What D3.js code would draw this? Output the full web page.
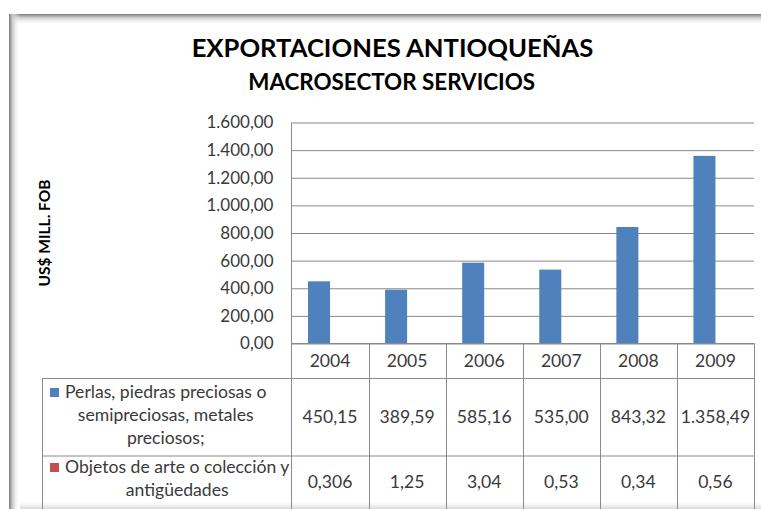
<!DOCTYPE html>
<html>
<head>
<meta charset="utf-8">
<script src="https://cdn.jsdelivr.net/npm/d3@7"></script>
<style>
  body { margin: 0; background: #ffffff; }
  svg { display: block; font-family: Lato, "Open Sans", sans-serif; }
</style>
</head>
<body>
<div id="chart"></div>
<script>
// data
const years = ["2004", "2005", "2006", "2007", "2008", "2009"];
const perlas = [450.15, 389.59, 585.16, 535.00, 843.32, 1358.49];
const objetos = [0.306, 1.25, 3.04, 0.53, 0.34, 0.56];
const objetosLabels = ["0,306", "1,25", "3,04", "0,53", "0,34", "0,56"];
const yTicks = [0, 200, 400, 600, 800, 1000, 1200, 1400, 1600];
const seriesKeys = ["perlas", "objetos"];
const seriesColors = ["#4f81bd", "#c0504d"];
const seriesLines = [
  ["Perlas, piedras preciosas o", "semipreciosas, metales", "preciosos;"],
  ["Objetos de arte o colección y", "antigüedades"]
];
const title = "EXPORTACIONES ANTIOQUEÑAS";
const subtitle = "MACROSECTOR SERVICIOS";
const yTitle = "US$ MILL. FOB";

const W = 761, H = 509;
const plot = { left: 291.5, right: 754, top: 122.5, bottom: 343.5 };
const rows = { header: 378.5, r1: 456, bottom: 520 };
const tableLeft = 42.5;
const gridColor = "#8a8a8a";
const textColor = "#3a3a3a";
const tableFont = "17.6px";

const es = d3.formatLocale({ decimal: ",", thousands: ".", grouping: [3], currency: ["$", ""] });
const fmt = es.format(",.2f");

const svg = d3.select("#chart").append("svg").attr("width", W).attr("height", H);

// chart area frame with soft inner shadow
const defs = svg.append("defs");
const gTop = defs.append("linearGradient").attr("id", "shTop").attr("x1", 0).attr("y1", 0).attr("x2", 0).attr("y2", 1);
gTop.append("stop").attr("offset", 0).attr("stop-color", "#7a7a7a");
gTop.append("stop").attr("offset", 0.3).attr("stop-color", "#c8c8c8");
gTop.append("stop").attr("offset", 1).attr("stop-color", "#ffffff").attr("stop-opacity", 0);
const gLeft = defs.append("linearGradient").attr("id", "shLeft").attr("x1", 0).attr("y1", 0).attr("x2", 1).attr("y2", 0);
gLeft.append("stop").attr("offset", 0).attr("stop-color", "#7a7a7a");
gLeft.append("stop").attr("offset", 0.3).attr("stop-color", "#c8c8c8");
gLeft.append("stop").attr("offset", 1).attr("stop-color", "#ffffff").attr("stop-opacity", 0);
const gBot = defs.append("linearGradient").attr("id", "shBot").attr("x1", 0).attr("y1", 0).attr("x2", 0).attr("y2", 1);
gBot.append("stop").attr("offset", 0).attr("stop-color", "#ffffff").attr("stop-opacity", 0);
gBot.append("stop").attr("offset", 1).attr("stop-color", "#d8d8d8");

svg.append("rect").attr("x", 9).attr("y", 14).attr("width", W - 9).attr("height", 11).attr("fill", "url(#shTop)");
svg.append("rect").attr("x", 9).attr("y", 14).attr("width", 11).attr("height", H - 14).attr("fill", "url(#shLeft)");
svg.append("rect").attr("x", 20).attr("y", 500).attr("width", W - 20).attr("height", 9).attr("fill", "url(#shBot)");

// scales
const y = d3.scaleLinear().domain([0, 1600]).range([plot.bottom, plot.top]);
const x = d3.scaleBand().domain(years).range([plot.left, plot.right]);
const xs = d3.scaleBand().domain(seriesKeys).range([0, x.bandwidth()]).paddingInner(0).paddingOuter(0.75);

// gridlines
svg.append("g")
  .attr("transform", `translate(${plot.left},0)`)
  .call(d3.axisLeft(y).tickValues(yTicks).tickSize(-(plot.right - plot.left)).tickFormat(""))
  .call(g => g.select(".domain").remove())
  .call(g => g.selectAll("line").attr("stroke", gridColor).attr("stroke-width", 1));

// y labels
svg.append("g")
  .attr("transform", `translate(${plot.left},0)`)
  .call(d3.axisLeft(y).tickValues(yTicks).tickSize(0).tickPadding(18).tickFormat(fmt))
  .call(g => g.select(".domain").remove())
  .call(g => g.selectAll("text").attr("fill", textColor).style("font-size", "17px").style("font-family", "Lato, sans-serif"));

// bars
const seriesData = [perlas, objetos];
seriesKeys.forEach((key, si) => {
  svg.append("g").selectAll("rect")
    .data(years.map((yr, i) => ({ yr, v: seriesData[si][i] })))
    .join("rect")
    .attr("x", d => x(d.yr) + xs(key))
    .attr("y", d => y(d.v))
    .attr("width", xs.bandwidth())
    .attr("height", d => y(0) - y(d.v))
    .attr("fill", seriesColors[si]);
});

// table lines
const lines = svg.append("g").attr("stroke", gridColor).attr("stroke-width", 1);
lines.append("line").attr("x1", plot.left).attr("x2", plot.left).attr("y1", plot.top).attr("y2", rows.bottom);
years.forEach(yr => {
  const xr = Math.round(x(yr) + x.bandwidth()) + 0.5;
  lines.append("line").attr("x1", xr).attr("x2", xr).attr("y1", plot.bottom).attr("y2", rows.bottom);
});
lines.append("line").attr("x1", plot.left).attr("x2", plot.right + 0.5).attr("y1", plot.bottom).attr("y2", plot.bottom);
lines.append("line").attr("x1", tableLeft).attr("x2", plot.right + 0.5).attr("y1", rows.header).attr("y2", rows.header);
lines.append("line").attr("x1", tableLeft).attr("x2", plot.right + 0.5).attr("y1", rows.r1).attr("y2", rows.r1);
lines.append("line").attr("x1", tableLeft).attr("x2", tableLeft).attr("y1", rows.header).attr("y2", rows.bottom);

// table text
const tt = svg.append("g").attr("fill", textColor).style("font-size", tableFont).attr("text-anchor", "middle");
tt.selectAll("text.yr").data(years).join("text").attr("class", "yr")
  .attr("x", d => x(d) + x.bandwidth() / 2).attr("y", 367).text(d => d);
tt.selectAll("text.v1").data(perlas).join("text").attr("class", "v1")
  .attr("x", (d, i) => x(years[i]) + x.bandwidth() / 2).attr("y", 423).text(d => fmt(d));
tt.selectAll("text.v2").data(objetosLabels).join("text").attr("class", "v2")
  .attr("x", (d, i) => x(years[i]) + x.bandwidth() / 2).attr("y", 488).text(d => d);

// series names with keys
const nameTop = [398, 473];
seriesLines.forEach((ls, si) => {
  const g = svg.append("g").attr("fill", textColor).style("font-size", tableFont);
  const texts = ls.map((l, li) => g.append("text").attr("y", nameTop[si] + li * 23).text(l));
  const maxW = d3.max(texts, t => t.node().getComputedTextLength());
  const cx = 65 + maxW / 2;
  texts.forEach(t => t.attr("x", cx).attr("text-anchor", "middle"));
  g.append("rect").attr("x", 50).attr("y", nameTop[si] - 10).attr("width", 9).attr("height", 9)
    .attr("fill", seriesColors[si]);
});

// titles, fitted to the widths seen in the reference
function fit(sel, target) {
  const w = sel.node().getComputedTextLength();
  const fs = parseFloat(sel.style("font-size"));
  sel.style("font-size", (fs * target / w) + "px");
}
const t1 = svg.append("text").attr("x", 392.5).attr("y", 57).attr("text-anchor", "middle")
  .style("font-weight", "bold").style("font-size", "26px").attr("fill", "#000").text(title);
fit(t1, 402);
const t2 = svg.append("text").attr("x", 391.7).attr("y", 90).attr("text-anchor", "middle")
  .style("font-weight", "bold").style("font-size", "20px").attr("fill", "#000").text(subtitle);
fit(t2, 287);
const t3 = svg.append("text").attr("transform", "translate(50,233) rotate(-90)").attr("text-anchor", "middle")
  .style("font-weight", "bold").style("font-size", "14px").attr("fill", "#000").text(yTitle);
fit(t3, 107);
</script>
</body>
</html>
